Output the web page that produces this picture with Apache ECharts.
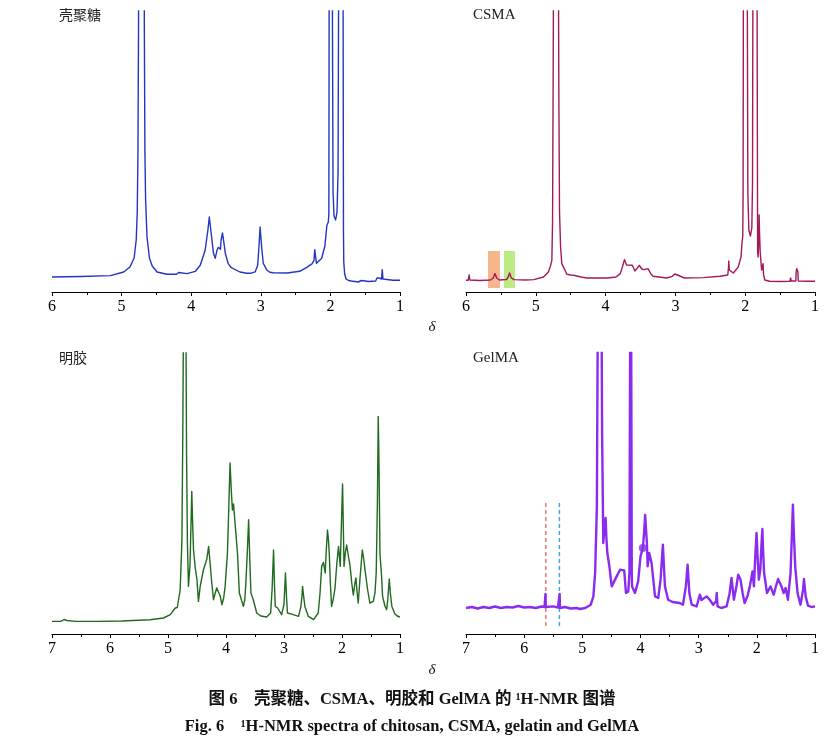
<!DOCTYPE html>
<html>
<head>
<meta charset="utf-8">
<title>1H-NMR</title>
<script src="https://cdn.jsdelivr.net/npm/echarts@6/dist/echarts.min.js"></script>
<style>
  html, body { margin: 0; padding: 0; background: #fff; }
  #chart { width: 836px; height: 743px; }
</style>
</head>
<body>
<div id="chart"></div>
<script>
// 化学位移 (ppm) 与信号强度
const chitosanSpectrum = [
  [6.00, 15], [5.59, 15.5], [5.16, 16.4], [4.97, 20], [4.88, 25], [4.82, 34], [4.79, 52], [4.775, 80],
  [4.765, 140], [4.757, 260], [4.75, 400], [4.715, 1000], [4.68, 400], [4.673, 260], [4.665, 140],
  [4.655, 92], [4.635, 55], [4.60, 34], [4.56, 26], [4.49, 20], [4.35, 17.7], [4.21, 17.7], [4.18, 19.5],
  [4.16, 17.7], [4.06, 18.4], [3.94, 20.7], [3.87, 26.7], [3.80, 41.7], [3.76, 62], [3.74, 75], [3.71, 57],
  [3.68, 38.7], [3.655, 33.7], [3.63, 41.7], [3.61, 44.7], [3.58, 42.7], [3.57, 52], [3.55, 59],
  [3.525, 46.7], [3.51, 38.7], [3.47, 28.7], [3.43, 24.7], [3.30, 20], [3.20, 18.7], [3.175, 20.5],
  [3.15, 18.7], [3.08, 20.2], [3.045, 26.7], [3.025, 46.7], [3.01, 65], [2.99, 46.7], [2.965, 28.7],
  [2.91, 21.7], [2.87, 19.7], [2.855, 21.2], [2.82, 19.2], [2.62, 19], [2.44, 20.7], [2.34, 24.7],
  [2.265, 28.2], [2.235, 31.7], [2.225, 42.4], [2.215, 36.7], [2.20, 28.7], [2.125, 33.7], [2.08, 45.7],
  [2.05, 66.7], [2.03, 70], [2.022, 78], [2.018, 300], [1.995, 800], [1.972, 300], [1.962, 100],
  [1.948, 76], [1.925, 72], [1.905, 80], [1.89, 120], [1.882, 300], [1.845, 800], [1.818, 300],
  [1.812, 60], [1.808, 30], [1.795, 18], [1.775, 13], [1.74, 11.5], [1.70, 11], [1.60, 10], [1.555, 11.5],
  [1.54, 10], [1.45, 10.5], [1.35, 11], [1.33, 14], [1.315, 12], [1.30, 14], [1.285, 12], [1.265, 13],
  [1.255, 22.4], [1.245, 13], [1.23, 11.7], [1.10, 11.7], [1.00, 11.7]
];

const csmaSpectrum = [
  [6.00, 11.7], [5.97, 11.7], [5.955, 17], [5.945, 12], [5.80, 11.5], [5.65, 12], [5.61, 14], [5.585, 18.4],
  [5.56, 14], [5.52, 12], [5.42, 12.5], [5.395, 15], [5.376, 19], [5.35, 14], [5.31, 12.4], [5.15, 12],
  [5.03, 12.4], [4.89, 15], [4.82, 20], [4.79, 26], [4.77, 31.7], [4.76, 70], [4.752, 200], [4.745, 350],
  [4.71, 1000], [4.677, 350], [4.67, 200], [4.66, 80], [4.645, 45], [4.627, 28.4], [4.555, 17.7],
  [4.50, 17], [4.46, 16.7], [4.35, 15], [4.27, 14], [4.225, 14], [4.21, 16], [4.195, 14], [3.98, 14],
  [3.85, 15], [3.79, 18.4], [3.755, 26], [3.73, 32.4], [3.70, 27], [3.675, 25.7], [3.617, 26.7],
  [3.58, 21], [3.545, 24], [3.517, 26.7], [3.48, 23], [3.45, 22.4], [3.393, 23.4], [3.35, 18],
  [3.32, 15.7], [3.125, 14], [3.045, 15.7], [3.01, 18], [2.99, 19], [2.97, 17], [2.945, 15], [2.87, 14],
  [2.86, 15], [2.85, 14], [2.60, 14.4], [2.36, 15.7], [2.25, 17], [2.24, 24], [2.235, 31], [2.228, 22],
  [2.22, 20], [2.17, 19], [2.10, 25], [2.06, 35], [2.045, 50], [2.035, 56], [2.03, 100], [2.026, 300],
  [2.00, 800], [1.97, 300], [1.962, 100], [1.948, 62], [1.925, 56], [1.905, 64], [1.895, 110], [1.89, 300],
  [1.855, 800], [1.83, 300], [1.822, 40], [1.815, 35], [1.806, 50], [1.80, 77], [1.795, 60], [1.785, 40],
  [1.765, 22], [1.752, 24], [1.744, 28.4], [1.738, 18], [1.72, 12], [1.70, 11], [1.65, 10.7], [1.50, 10.5],
  [1.36, 10.7], [1.35, 14], [1.34, 11], [1.275, 11], [1.27, 20], [1.262, 23.4], [1.252, 23.4], [1.245, 20],
  [1.24, 11], [1.10, 10.7], [1.00, 10.7]
];

const gelatinSpectrum = [
  [7.00, 12.6], [6.85, 12.6], [6.79, 14.5], [6.77, 15], [6.74, 13.5], [6.60, 12.6], [6.20, 12.6], [5.80, 13],
  [5.31, 14.3], [5.08, 16], [4.96, 19.3], [4.875, 26], [4.86, 27.6], [4.84, 26.5], [4.82, 27.6], [4.79, 44],
  [4.76, 94], [4.745, 200], [4.735, 300], [4.71, 900], [4.69, 300], [4.68, 180], [4.665, 90], [4.647, 47.6],
  [4.62, 70], [4.59, 142.6], [4.575, 110], [4.56, 84], [4.53, 66], [4.50, 54], [4.475, 32.6], [4.445, 47.6],
  [4.42, 55], [4.39, 64], [4.36, 66], [4.33, 75], [4.30, 87.6], [4.27, 68], [4.245, 51], [4.216, 34.3],
  [4.19, 40], [4.16, 46], [4.13, 44], [4.10, 38], [4.07, 29.3], [4.04, 36], [4.015, 47.6], [3.975, 81],
  [3.95, 130], [3.93, 171], [3.91, 145], [3.89, 124], [3.87, 130], [3.855, 119], [3.83, 101], [3.80, 79],
  [3.77, 41], [3.70, 27.6], [3.675, 35], [3.655, 54], [3.63, 85], [3.61, 114.3], [3.59, 75], [3.57, 41],
  [3.53, 34.3], [3.47, 21], [3.40, 18], [3.30, 17], [3.23, 21], [3.205, 45], [3.18, 84], [3.165, 50],
  [3.15, 27.6], [3.13, 28], [3.11, 26], [3.04, 19.3], [3.00, 30], [2.975, 61], [2.955, 35], [2.94, 21],
  [2.84, 19.3], [2.75, 17.6], [2.71, 27], [2.69, 37.6], [2.68, 47.6], [2.66, 37], [2.64, 27.6], [2.58, 17.6],
  [2.49, 14.3], [2.41, 21], [2.38, 40], [2.35, 67.6], [2.32, 71.6], [2.29, 61], [2.27, 85], [2.25, 104],
  [2.235, 95], [2.22, 81], [2.20, 50], [2.18, 27.6], [2.15, 35], [2.12, 46], [2.09, 70], [2.06, 87.6],
  [2.03, 67.6], [2.01, 110], [1.99, 150], [1.975, 100], [1.965, 67.6], [1.94, 82], [1.92, 89], [1.89, 78],
  [1.86, 67.6], [1.83, 50], [1.805, 39], [1.78, 50], [1.76, 56], [1.74, 42], [1.72, 31], [1.69, 55],
  [1.65, 84], [1.625, 75], [1.60, 62.6], [1.56, 45], [1.52, 31], [1.46, 32.6], [1.43, 42], [1.41, 61],
  [1.39, 130], [1.375, 217.6], [1.36, 160], [1.345, 80], [1.32, 60], [1.30, 37.6], [1.26, 28], [1.23, 24.3],
  [1.21, 35], [1.185, 55], [1.165, 40], [1.14, 27.6], [1.09, 20.3], [1.05, 18], [1.00, 17]
];

const gelmaSpectrum = [
  [7.00, 26], [6.90, 27], [6.80, 25.5], [6.70, 27], [6.60, 26], [6.50, 27.5], [6.40, 26], [6.30, 27],
  [6.20, 26.5], [6.10, 28], [6.00, 26.5], [5.90, 27], [5.80, 26], [5.70, 27.5], [5.65, 27], [5.638, 28],
  [5.634, 40], [5.628, 27], [5.60, 26], [5.50, 27.6], [5.42, 26.5], [5.40, 28], [5.39, 40], [5.385, 26],
  [5.30, 27], [5.20, 25.5], [5.10, 26], [5.04, 25], [4.95, 26], [4.855, 29.3], [4.81, 37.6], [4.78, 61],
  [4.75, 127.6], [4.74, 250], [4.735, 300], [4.70, 900], [4.668, 300], [4.66, 200], [4.64, 91], [4.62, 105],
  [4.60, 116], [4.585, 95], [4.57, 81], [4.535, 67.6], [4.495, 47.6], [4.47, 47.6], [4.41, 57.6],
  [4.35, 64.3], [4.28, 63.6], [4.25, 41], [4.21, 42.6], [4.19, 61], [4.178, 300], [4.17, 900], [4.16, 300],
  [4.15, 60], [4.145, 47.6], [4.095, 41], [4.04, 52.6], [4.00, 77.6], [3.96, 86], [3.94, 100], [3.92, 119],
  [3.89, 91], [3.877, 67.6], [3.85, 81], [3.81, 71], [3.75, 37.6], [3.695, 36], [3.655, 54.3], [3.615, 89.3],
  [3.58, 47.6], [3.525, 34.3], [3.45, 32], [3.325, 31], [3.27, 29.3], [3.22, 47.6], [3.19, 69.3], [3.16, 41],
  [3.12, 29.3], [3.035, 27.6], [2.98, 39.3], [2.95, 34], [2.92, 36], [2.865, 37.6], [2.81, 34.3],
  [2.75, 29.3], [2.70, 33], [2.69, 41], [2.675, 27.6], [2.61, 26], [2.52, 27.6], [2.47, 40], [2.435, 56],
  [2.395, 34.3], [2.35, 48], [2.32, 59.3], [2.28, 54.3], [2.245, 41], [2.21, 31], [2.16, 38], [2.12, 47.6],
  [2.075, 62.6], [2.05, 47.6], [2.025, 80], [2.005, 101], [1.985, 75], [1.965, 54.3], [1.94, 64.3],
  [1.92, 90], [1.905, 105], [1.89, 80], [1.875, 61], [1.825, 41], [1.765, 47.6], [1.71, 39.3], [1.67, 48],
  [1.635, 55], [1.575, 47.6], [1.54, 41], [1.505, 46], [1.465, 34.3], [1.42, 61], [1.38, 129.3], [1.36, 95],
  [1.34, 67.6], [1.30, 41], [1.25, 29.3], [1.205, 44.3], [1.19, 55], [1.16, 37.6], [1.12, 28.3], [1.06, 27],
  [1.00, 27.6]
];

// CSMA 中标出的两个双键区 (ppm 范围, 强度范围)
const csmaBands = [
  { from: 5.685, to: 5.514, low: 4, high: 41, color: 'rgba(243,160,105,0.78)' },
  { from: 5.457, to: 5.30, low: 4, high: 41, color: 'rgba(170,228,95,0.78)' }
];

// GelMA 中的虚线位置
const gelmaMarkers = [
  { ppm: 5.627, low: 8, high: 133, color: '#e0706c' },
  { ppm: 5.394, low: 8, high: 133, color: '#3aa6e0' }
];
const gelmaDot = [[3.96, 86]];

const panelTitles = ['壳聚糖', 'CSMA', '明胶', 'GelMA'];
const xRanges = [[1, 6], [1, 6], [1, 7], [1, 7]];
const yMax = 281;

const colors = ['#2236c2', '#a3195c', '#1f6a1f', '#8a2cf0'];
const grids = [
  { left: 52, top: 11, width: 348, height: 281 },
  { left: 466, top: 11, width: 349, height: 281 },
  { left: 52, top: 353, width: 348, height: 281 },
  { left: 466, top: 353, width: 349, height: 281 }
];

const serif = '"Liberation Serif", "Times New Roman", "Noto Sans CJK SC", serif';

function makeXAxis(i) {
  return {
    type: 'value',
    gridIndex: i,
    inverse: true,
    min: xRanges[i][0],
    max: xRanges[i][1],
    interval: 1,
    axisLine: { show: true, lineStyle: { color: '#000', width: 1 } },
    axisTick: { show: true, length: 4, lineStyle: { color: '#000' } },
    minorTick: { show: true, splitNumber: 2, length: 3, lineStyle: { color: '#000' } },
    splitLine: { show: false },
    axisLabel: { color: '#000', fontFamily: serif, fontSize: 16, margin: 7 }
  };
}

function makeYAxis(i) {
  return { type: 'value', gridIndex: i, min: 0, max: yMax, show: false };
}

function spectrumSeries(i, data, width) {
  return {
    type: 'line',
    xAxisIndex: i,
    yAxisIndex: i,
    data: data,
    showSymbol: false,
    smooth: false,
    clip: true,
    lineStyle: { color: colors[i], width: width || 1.4, join: 'round' },
    z: 3
  };
}

const series = [
  spectrumSeries(0, chitosanSpectrum),
  spectrumSeries(1, csmaSpectrum),
  spectrumSeries(2, gelatinSpectrum),
  spectrumSeries(3, gelmaSpectrum, 2.4),
  {
    type: 'line',
    xAxisIndex: 1,
    yAxisIndex: 1,
    data: [],
    z: 5,
    markArea: {
      silent: true,
      data: csmaBands.map(b => [
        { xAxis: b.from, yAxis: b.low, itemStyle: { color: b.color } },
        { xAxis: b.to, yAxis: b.high }
      ])
    }
  },
  {
    type: 'scatter',
    xAxisIndex: 3,
    yAxisIndex: 3,
    data: gelmaDot,
    symbolSize: 8,
    itemStyle: { color: colors[3] },
    z: 4
  }
];

gelmaMarkers.forEach(m => {
  series.push({
    type: 'line',
    xAxisIndex: 3,
    yAxisIndex: 3,
    data: [[m.ppm, m.low], [m.ppm, m.high]],
    showSymbol: false,
    lineStyle: { color: m.color, width: 1.4, type: [4, 3] },
    z: 2
  });
});

const titlePos = [[59, 17], [473, 17], [59, 360], [473, 360]];
const graphics = panelTitles.map((t, i) => ({
  type: 'text',
  left: titlePos[i][0],
  top: titlePos[i][1] - 9,
  style: {
    text: t,
    fill: '#222',
    font: (i % 2 === 0 ? '14px "Noto Sans CJK SC"' : '15px ' + serif)
  }
}));

// δ 轴名
[[432, 327], [432, 670]].forEach(p => {
  graphics.push({
    type: 'text',
    x: p[0],
    y: p[1],
    style: { text: 'δ', fill: '#111', font: 'italic 15px ' + serif, align: 'center', verticalAlign: 'middle' }
  });
});

// 图题
graphics.push({
  type: 'text',
  x: 412,
  y: 700,
  style: {
    text: '图 6\u3000壳聚糖、CSMA、明胶和 GelMA 的 ¹H-NMR 图谱',
    fill: '#111',
    font: 'bold 16.5px ' + serif,
    align: 'center',
    verticalAlign: 'middle'
  }
});
graphics.push({
  type: 'text',
  x: 412,
  y: 727,
  style: {
    text: 'Fig. 6\u2003¹H-NMR spectra of chitosan, CSMA, gelatin and GelMA',
    fill: '#111',
    font: 'bold 16.5px ' + serif,
    align: 'center',
    verticalAlign: 'middle'
  }
});

const chart = echarts.init(document.getElementById('chart'));
chart.setOption({
  animation: false,
  backgroundColor: '#fff',
  grid: grids,
  xAxis: [0, 1, 2, 3].map(makeXAxis),
  yAxis: [0, 1, 2, 3].map(makeYAxis),
  series: series,
  graphic: graphics
});
</script>
</body>
</html>
